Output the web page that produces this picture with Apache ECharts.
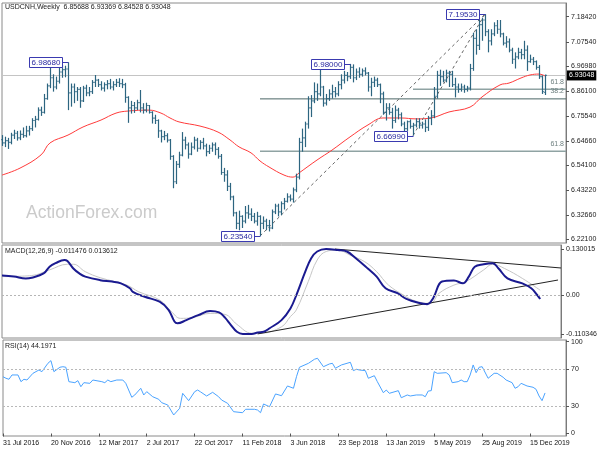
<!DOCTYPE html>
<html><head><meta charset="utf-8">
<script src="https://cdn.jsdelivr.net/npm/echarts@6/dist/echarts.min.js"></script>
<style>html,body{margin:0;padding:0;background:#fff}#c{width:600px;height:450px}</style>
</head><body><div id="c"></div>
<script>
// Weekly bars from 31 Jul 2016 (index 0) to 19 Jan 2020 (index 181): [open, high, low, close]
const ohlc = [
[6.652,6.672,6.625,6.638],[6.638,6.665,6.620,6.648],[6.648,6.660,6.612,6.640],[6.640,6.682,6.632,6.672],[6.672,6.695,6.655,6.680],
[6.680,6.690,6.648,6.660],[6.660,6.692,6.650,6.675],[6.675,6.705,6.660,6.670],[6.670,6.712,6.662,6.690],[6.690,6.712,6.670,6.700],
[6.700,6.745,6.690,6.735],[6.735,6.755,6.705,6.740],[6.740,6.792,6.735,6.780],[6.780,6.795,6.755,6.770],[6.770,6.850,6.765,6.830],
[6.830,6.895,6.825,6.885],[6.885,6.965,6.875,6.920],[6.920,6.935,6.860,6.880],[6.880,6.925,6.870,6.905],[6.905,6.965,6.895,6.945],
[6.945,6.975,6.920,6.955],[6.955,6.972,6.922,6.958],[6.958,6.9868,6.780,6.855],[6.855,6.895,6.795,6.880],[6.880,6.895,6.810,6.860],
[6.860,6.880,6.820,6.870],[6.870,6.880,6.790,6.820],[6.820,6.885,6.815,6.875],[6.875,6.890,6.840,6.855],[6.855,6.880,6.840,6.860],
[6.860,6.910,6.850,6.900],[6.900,6.932,6.880,6.910],[6.910,6.915,6.880,6.890],[6.890,6.905,6.865,6.875],[6.875,6.900,6.860,6.890],
[6.890,6.910,6.870,6.895],[6.895,6.915,6.870,6.880],[6.880,6.905,6.865,6.890],[6.890,6.915,6.880,6.900],[6.900,6.918,6.880,6.895],
[6.895,6.915,6.875,6.890],[6.890,6.898,6.812,6.835],[6.835,6.840,6.725,6.790],[6.790,6.820,6.765,6.800],[6.800,6.815,6.768,6.790],
[6.790,6.825,6.780,6.812],[6.812,6.867,6.770,6.790],[6.790,6.810,6.765,6.780],[6.780,6.812,6.770,6.800],[6.800,6.802,6.765,6.770],
[6.770,6.775,6.722,6.745],[6.745,6.760,6.720,6.735],[6.735,6.740,6.660,6.690],[6.690,6.695,6.640,6.665],[6.665,6.690,6.650,6.670],
[6.670,6.680,6.640,6.650],[6.650,6.655,6.565,6.580],[6.580,6.585,6.442,6.470],[6.470,6.560,6.460,6.545],[6.545,6.600,6.530,6.585],
[6.585,6.685,6.580,6.650],[6.650,6.665,6.610,6.630],[6.630,6.640,6.570,6.590],[6.590,6.640,6.585,6.620],[6.620,6.665,6.610,6.650],
[6.650,6.660,6.600,6.615],[6.615,6.650,6.610,6.640],[6.640,6.660,6.610,6.625],[6.625,6.635,6.580,6.600],[6.600,6.630,6.590,6.615],
[6.615,6.640,6.600,6.630],[6.630,6.640,6.585,6.610],[6.610,6.620,6.570,6.580],[6.580,6.590,6.500,6.510],[6.510,6.530,6.470,6.500],
[6.500,6.520,6.430,6.450],[6.450,6.465,6.390,6.405],[6.405,6.410,6.320,6.335],[6.335,6.340,6.265,6.290],[6.290,6.345,6.260,6.320],
[6.320,6.325,6.270,6.300],[6.300,6.365,6.290,6.335],[6.335,6.370,6.310,6.330],[6.330,6.355,6.300,6.320],[6.320,6.335,6.290,6.300],
[6.300,6.340,6.280,6.320],[6.320,6.325,6.2354,6.290],[6.290,6.320,6.265,6.300],[6.300,6.310,6.260,6.280],[6.280,6.305,6.255,6.270],
[6.270,6.350,6.265,6.340],[6.340,6.375,6.330,6.365],[6.365,6.375,6.320,6.340],[6.340,6.385,6.325,6.375],[6.375,6.400,6.350,6.385],
[6.385,6.420,6.380,6.405],[6.405,6.415,6.385,6.395],[6.395,6.445,6.380,6.435],[6.435,6.505,6.425,6.490],[6.490,6.660,6.480,6.640],
[6.640,6.700,6.600,6.660],[6.660,6.730,6.620,6.720],[6.720,6.840,6.700,6.790],[6.790,6.845,6.750,6.820],[6.820,6.900,6.810,6.860],
[6.860,6.895,6.820,6.850],[6.850,6.975,6.840,6.880],[6.880,6.885,6.795,6.810],[6.810,6.850,6.800,6.830],[6.830,6.870,6.820,6.850],
[6.850,6.890,6.830,6.860],[6.860,6.880,6.835,6.850],[6.850,6.905,6.840,6.890],[6.890,6.935,6.870,6.910],[6.910,6.950,6.895,6.930],
[6.930,6.945,6.905,6.925],[6.925,6.980,6.915,6.965],[6.965,6.978,6.900,6.920],[6.920,6.960,6.910,6.945],[6.945,6.965,6.920,6.935],
[6.935,6.960,6.925,6.950],[6.950,6.965,6.930,6.940],[6.940,6.945,6.860,6.880],[6.880,6.920,6.840,6.900],[6.900,6.925,6.880,6.910],
[6.910,6.920,6.880,6.890],[6.890,6.895,6.810,6.850],[6.850,6.860,6.760,6.770],[6.770,6.810,6.735,6.790],[6.790,6.810,6.760,6.770],
[6.770,6.790,6.700,6.735],[6.735,6.800,6.725,6.780],[6.780,6.790,6.740,6.760],[6.760,6.770,6.710,6.720],[6.720,6.730,6.680,6.700],
[6.700,6.735,6.690,6.730],[6.730,6.740,6.700,6.710],[6.710,6.725,6.6699,6.715],[6.715,6.745,6.705,6.730],[6.730,6.745,6.700,6.715],
[6.715,6.730,6.700,6.720],[6.720,6.740,6.685,6.705],[6.705,6.755,6.690,6.745],[6.745,6.780,6.715,6.755],[6.755,6.880,6.745,6.840],
[6.840,6.950,6.830,6.930],[6.930,6.955,6.885,6.925],[6.925,6.950,6.900,6.910],[6.910,6.955,6.900,6.940],[6.940,6.950,6.880,6.935],
[6.935,6.950,6.880,6.890],[6.890,6.920,6.835,6.880],[6.880,6.895,6.855,6.870],[6.870,6.895,6.860,6.880],[6.880,6.890,6.855,6.870],
[6.870,6.885,6.860,6.875],[6.875,6.980,6.865,6.960],[6.960,7.115,6.950,7.090],[7.090,7.130,7.020,7.060],[7.060,7.170,7.040,7.150],
[7.150,7.180,7.080,7.170],[7.170,7.1953,7.100,7.120],[7.120,7.130,7.030,7.080],[7.080,7.130,7.060,7.110],[7.110,7.160,7.100,7.145],
[7.145,7.170,7.110,7.130],[7.130,7.170,7.095,7.110],[7.110,7.115,7.060,7.070],[7.070,7.100,7.050,7.075],[7.075,7.090,7.030,7.040],
[7.040,7.050,6.980,7.000],[7.000,7.030,6.960,7.010],[7.010,7.050,7.000,7.030],[7.030,7.045,7.000,7.020],[7.020,7.080,7.000,7.040],
[7.040,7.060,6.950,6.990],[6.990,7.020,6.985,7.000],[7.000,7.010,6.975,6.990],[6.990,6.995,6.955,6.965],[6.965,6.975,6.915,6.925],
[6.925,6.930,6.850,6.860],[6.85688,6.93369,6.84528,6.93048]
];
// moving average (red): [week index, value]
const maPoints = [[0,6.499],[6,6.529],[13,6.586],[16,6.638],[22,6.672],[27,6.707],[33,6.737],[38,6.767],[42,6.776],[49,6.780],
[53,6.767],[56,6.746],[59,6.729],[66,6.711],[72,6.685],[76,6.651],[79,6.621],[83,6.595],[86,6.560],[89,6.534],[94,6.499],
[97,6.490],[99,6.508],[105,6.564],[110,6.607],[116,6.664],[122,6.716],[127,6.746],[133,6.746],[138,6.742],[143,6.746],
[149,6.772],[156,6.793],[160,6.837],[166,6.889],[169,6.897],[173,6.919],[176,6.932],[179,6.936],[181,6.928]];
const macdPoints = [[0,0.055],[4,0.052],[8,0.047],[10,0.049],[14,0.061],[16,0.080],[18,0.090],[21,0.099],[22,0.096],[24,0.075],
[26,0.061],[28,0.052],[33,0.042],[37,0.038],[40,0.033],[43,0.019],[44,0.009],[48,-0.005],[53,-0.019],[56,-0.042],[58,-0.075],
[59,-0.080],[62,-0.071],[66,-0.057],[70,-0.045],[73,-0.049],[75,-0.064],[77,-0.085],[79,-0.104],[81,-0.110],[84,-0.110],
[86,-0.106],[88,-0.104],[90,-0.094],[94,-0.071],[97,-0.038],[99,0.000],[102,0.066],[104,0.104],[106,0.123],[109,0.130],
[113,0.127],[116,0.123],[119,0.104],[123,0.075],[126,0.052],[129,0.019],[133,0.005],[136,-0.011],[140,-0.022],[143,-0.026],
[145,-0.009],[148,0.038],[152,0.041],[155,0.033],[157,0.052],[159,0.080],[162,0.087],[165,0.090],[167,0.075],[170,0.047],
[175,0.033],[178,0.019],[180,0.000],[181,-0.011476]];
const signalPoints = [[0,0.052],[10,0.055],[16,0.071],[22,0.087],[24,0.087],[28,0.066],[33,0.049],[42,0.028],[46,0.009],
[53,-0.014],[57,-0.047],[60,-0.066],[64,-0.064],[70,-0.052],[75,-0.055],[79,-0.083],[84,-0.108],[87,-0.108],[94,-0.090],
[97,-0.061],[99,-0.042],[103,0.038],[106,0.099],[109,0.123],[113,0.127],[117,0.113],[122,0.094],[126,0.066],[130,0.028],
[135,0.000],[139,-0.017],[144,-0.024],[147,0.005],[152,0.028],[156,0.038],[162,0.071],[165,0.087],[169,0.075],[175,0.047],
[181,0.013612]];
const rsiPoints = [[0,61.9],[1,60.2],[2,59.1],[3,63.8],[5,63.8],[6,56.5],[7,59.1],[8,58.3],[10,65.6],[12,69.2],[13,67.4],
[15,76.5],[16,79.4],[17,67.4],[19,72.2],[20,72.8],[21,72.2],[22,56.5],[24,55.4],[25,57.6],[26,51.0],[27,55.4],[29,54.7],
[30,58.3],[33,56.5],[34,55.4],[35,58.3],[36,56.5],[38,58.3],[40,58.3],[41,54.7],[43,39.5],[44,42.0],[46,49.3],[47,42.0],
[48,45.6],[50,40.1],[52,37.3],[53,33.6],[55,31.1],[57,20.2],[59,27.5],[60,43.8],[62,35.8],[64,45.6],[65,47.4],[66,45.3],
[68,40.9],[70,44.9],[72,40.1],[73,36.5],[75,32.9],[77,23.8],[80,22.7],[81,26.4],[84,26.4],[85,25.6],[86,22.7],[87,32.2],
[89,29.2],[91,43.1],[93,41.2],[95,51.8],[97,49.3],[98,61.9],[99,72.2],[102,76.5],[104,80.9],[105,82.0],[107,72.8],[109,75.8],
[110,76.5],[111,71.1],[113,74.7],[116,77.6],[117,68.5],[118,70.0],[119,69.2],[121,68.5],[122,60.2],[124,63.0],[125,56.5],
[127,44.5],[128,47.4],[129,43.8],[132,46.7],[133,39.0],[135,42.0],[136,40.9],[138,42.0],[140,42.0],[141,40.1],[142,46.3],
[143,46.7],[144,67.4],[145,65.6],[148,66.3],[149,63.8],[150,55.4],[152,56.5],[153,58.3],[154,56.5],[155,56.5],[156,63.8],
[157,74.7],[158,66.3],[159,72.2],[160,72.8],[162,60.2],[164,65.6],[165,65.6],[167,61.3],[168,58.3],[170,55.4],[171,49.3],
[172,51.0],[173,54.7],[175,51.8],[177,50.4],[178,48.2],[179,40.9],[180,35.8],[181,44.1971]];

const priceTicks = [7.1842, 7.0754, 6.9698, 6.8610, 6.7554, 6.6466, 6.5410, 6.4322, 6.3266, 6.2210];
const macdTicks = [0.130015, 0, -0.110346];
const macdTickLabels = ['0.130015', '0.00', '-0.110346'];
const rsiTicks = [100, 70, 30, 0];
const xTickLabels = ['31 Jul 2016','20 Nov 2016','12 Mar 2017','2 Jul 2017','22 Oct 2017','11 Feb 2018',
  '3 Jun 2018','23 Sep 2018','13 Jan 2019','5 May 2019','25 Aug 2019','15 Dec 2019'];
const lastClose = 6.93048;
const swingLabels = [[22,6.9868,'6.98680'],[86,6.2354,'6.23540'],[116,6.98,'6.98000'],[137,6.6699,'6.66990'],[161,7.1953,'7.19530']];
const fibLines = [[86,6.8286,'38.2'],[86,6.6021,'61.8'],[137,6.8706,'61.8']];
const dashLines = [[[86,6.2354],[161,7.1953]],[[137,6.6699],[161,7.1953]]];
const macdTrend = [[[112,0.130],[188,0.0764]],[[86,-0.110],[187,0.0424]]];

const NCAT = 189;
const categories = Array.from({length: NCAT}, (_, i) => String(i));
const FONT = 'Liberation Sans';
const BAR = '#2d6580';

const chart = echarts.init(document.getElementById('c'), null, {renderer: 'canvas'});
const grids = [
  {left: 2, right: 34, top: 3, height: 240},
  {left: 2, right: 34, top: 245, height: 93},
  {left: 2, right: 34, top: 340, height: 96}
].map(g => Object.assign(g, {show: true, borderColor: '#8a8a8a', borderWidth: 1}));

const xAxes = [0,1,2].map(gi => ({
  type: 'category', gridIndex: gi, data: categories, boundaryGap: false,
  axisLine: {show: false}, splitLine: {show: false},
  axisTick: gi === 2 ? {show: true, length: 3, interval: (idx) => idx % 16 === 0 && idx / 16 < xTickLabels.length, lineStyle: {color: '#555'}} : {show: false},
  axisLabel: gi === 2 ? {
    show: true, interval: (idx) => idx % 16 === 0 && idx / 16 < xTickLabels.length,
    formatter: (v, idx) => xTickLabels[idx / 16] || '', align: 'left', margin: 4,
    fontSize: 7, color: '#111', fontFamily: FONT
  } : {show: false}
}));

const yCommon = {type: 'value', position: 'right', splitLine: {show: false},
  axisLine: {show: true, lineStyle: {color: '#7a7a7a'}}};
const yAxes = [
  Object.assign({}, yCommon, {gridIndex: 0, min: 6.205, max: 7.2435,
    axisTick: {show: true, length: 3, customValues: priceTicks, lineStyle: {color: '#555'}},
    axisLabel: {customValues: priceTicks, formatter: v => v.toFixed(5), fontSize: 7, color: '#222', margin: 5, fontFamily: FONT}}),
  Object.assign({}, yCommon, {gridIndex: 1, min: -0.1216, max: 0.1414,
    axisTick: {show: true, length: 3, customValues: macdTicks, lineStyle: {color: '#555'}},
    axisLabel: {customValues: macdTicks, formatter: v => macdTickLabels[macdTicks.findIndex(t => Math.abs(t - v) < 1e-7)] ?? '', fontSize: 7, color: '#222', margin: 5, fontFamily: FONT}}),
  Object.assign({}, yCommon, {gridIndex: 2, min: -2.7, max: 101.9,
    axisTick: {show: true, length: 3, customValues: rsiTicks, lineStyle: {color: '#555'}},
    axisLabel: {customValues: rsiTicks, fontSize: 7, color: '#222', margin: 5, fontFamily: FONT}})
];

const series = [];
// OHLC bars
series.push({
  type: 'custom', xAxisIndex: 0, yAxisIndex: 0, z: 3,
  data: ohlc.map((d, i) => [i, d[0], d[1], d[2], d[3]]),
  encode: {x: 0, y: [1, 2, 3, 4]},
  renderItem: (params, api) => {
    const i = api.value(0);
    const o = api.coord([i, api.value(1)]);
    const h = api.coord([i, api.value(2)]);
    const l = api.coord([i, api.value(3)]);
    const c = api.coord([i, api.value(4)]);
    const x = Math.round(h[0]) + 0.5;
    const st = {stroke: BAR, lineWidth: 1.2};
    return {type: 'group', children: [
      {type: 'line', shape: {x1: x, y1: h[1], x2: x, y2: l[1]}, style: st},
      {type: 'line', shape: {x1: x - 1.2, y1: o[1], x2: x, y2: o[1]}, style: st},
      {type: 'line', shape: {x1: x, y1: c[1], x2: x + 1.2, y2: c[1]}, style: st}
    ]};
  },
  markLine: {
    symbol: 'none', silent: true, z: 1,
    data: [{yAxis: lastClose}],
    lineStyle: {color: '#c4c4c4', type: 'solid', width: 1},
    label: {show: true, position: 'end', formatter: lastClose.toFixed(5), backgroundColor: '#000', color: '#fff',
      fontSize: 7, fontFamily: FONT, padding: [2, 2, 1, 2], distance: 1}
  }
});
// moving average
series.push({type: 'line', xAxisIndex: 0, yAxisIndex: 0, data: maPoints, symbol: 'none', smooth: 0.4,
  lineStyle: {color: '#ff3b3b', width: 1}, z: 2});
// fib lines
fibLines.forEach(f => {
  series.push({type: 'line', xAxisIndex: 0, yAxisIndex: 0, z: 1,
    data: [[f[0], f[1]], {value: [NCAT - 1, f[1]], label: {show: true, formatter: f[2], position: 'top', align: 'right',
      offset: [-2, 1], fontSize: 7, color: '#6f8080', fontFamily: FONT}}],
    symbolSize: 0, showSymbol: true, lineStyle: {color: f[2] === '38.2' ? '#4a6666' : '#8fa3a3', width: f[2] === '38.2' ? 1 : 1.5}});
});
// dashed trend lines
dashLines.forEach(d => {
  series.push({type: 'line', xAxisIndex: 0, yAxisIndex: 0, data: d, symbol: 'none', z: 2,
    lineStyle: {color: '#666', width: 1, type: [3, 3]}});
});
// swing labels
series.push({
  type: 'custom', xAxisIndex: 0, yAxisIndex: 0, z: 5, data: swingLabels.map(s => [s[0], s[1]]),
  encode: {x: 0, y: 1},
  renderItem: (params, api) => {
    const p = api.coord([api.value(0), api.value(1)]);
    const x = Math.round(p[0]) + 0.5, y = Math.round(p[1]) + 0.5;
    const txt = swingLabels[params.dataIndex][2];
    return {type: 'group', children: [
      {type: 'line', shape: {x1: x - 6, y1: y, x2: x, y2: y}, style: {stroke: '#3a3ab0', lineWidth: 1}},
      {type: 'rect', shape: {x: x - 39, y: y - 5, width: 33, height: 10}, style: {fill: '#fff', stroke: '#3a3ab0', lineWidth: 1}},
      {type: 'text', x: x - 22.5, y: y + 0.5, style: {text: txt, fill: '#2a2aa0', fontSize: 8, fontFamily: FONT, align: 'center', verticalAlign: 'middle'}}
    ]};
  }
});
// MACD
series.push({type: 'line', xAxisIndex: 1, yAxisIndex: 1, data: signalPoints, symbol: 'none', smooth: 0.4,
  lineStyle: {color: '#c6c6c6', width: 1}, z: 2,
  markLine: {symbol: 'none', silent: true, data: [{yAxis: 0}], label: {show: false},
    lineStyle: {color: '#b5b5b5', type: [2, 2], width: 1}}});
macdTrend.forEach(t => {
  series.push({type: 'line', xAxisIndex: 1, yAxisIndex: 1, data: t, symbol: 'none', z: 3,
    lineStyle: {color: '#222', width: 1}});
});
series.push({type: 'line', xAxisIndex: 1, yAxisIndex: 1, data: macdPoints, symbol: 'none', smooth: 0.4,
  lineStyle: {color: '#1a1a90', width: 2}, z: 4});
// RSI
series.push({type: 'line', xAxisIndex: 2, yAxisIndex: 2, data: rsiPoints, symbol: 'none',
  lineStyle: {color: '#4aa3ff', width: 1}, z: 3,
  markLine: {symbol: 'none', silent: true, data: [{yAxis: 70}, {yAxis: 30}], label: {show: false},
    lineStyle: {color: '#b8b8b8', type: [2, 2], width: 1}}});

chart.setOption({
  animation: false,
  backgroundColor: '#fff',
  grid: grids, xAxis: xAxes, yAxis: yAxes, series: series,
  graphic: [
    {type: 'text', left: 26, top: 204, z: 0, style: {text: 'ActionForex.com', fontSize: 17.5, fill: '#cbcbcb', fontFamily: FONT}},
    {type: 'text', left: 5, top: 4, z: 10, style: {text: 'USDCNH,Weekly  6.85688 6.93369 6.84528 6.93048', fontSize: 7, fill: '#222', fontFamily: FONT}},
    {type: 'text', left: 5, top: 248, z: 10, style: {text: 'MACD(12,26,9) -0.011476 0.013612', fontSize: 7, fill: '#222', fontFamily: FONT}},
    {type: 'text', left: 5, top: 343, z: 10, style: {text: 'RSI(14) 44.1971', fontSize: 7, fill: '#222', fontFamily: FONT}}
  ]
});
</script></body></html>
